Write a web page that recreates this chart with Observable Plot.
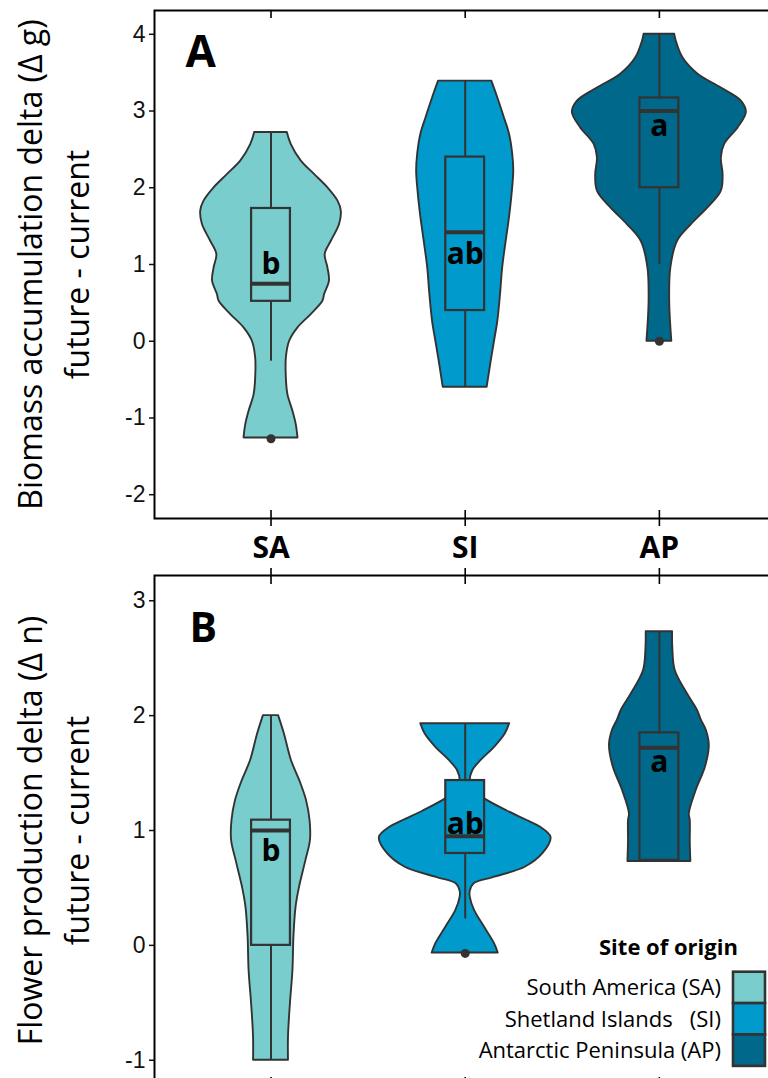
<!DOCTYPE html>
<html><head><meta charset="utf-8">
<script src="https://cdn.jsdelivr.net/npm/d3@7"></script>
<script src="https://cdn.jsdelivr.net/npm/@observablehq/plot@0.6"></script>
<style>
html,body{margin:0;padding:0;background:#fff;overflow:hidden;width:768px;height:1078px;}
#wrap{position:relative;width:768px;height:1078px;overflow:hidden;}
#pa{position:absolute;left:0;top:0;width:800px;}
#pb{position:absolute;left:0;top:560px;width:800px;}
#pa svg,#pb svg{max-width:none !important;}
#lg{position:absolute;left:0;top:0;}
</style></head><body>
<div id="wrap"><div id="pa"></div><div id="pb"></div><svg id="lg" width="768" height="1078"></svg></div>
<script>
// ---------- data ----------
const sites = ["SA", "SI", "AP"];
const siteNames = ["South America (SA)", "Shetland Islands   (SI)", "Antarctic Peninsula (AP)"];
const siteColors = ["#79CDCD", "#009ACD", "#00688B"];
const groupLabels = ["b", "ab", "a"];

// violin outlines: [value, half-width in category units]
const violinA_SA = [[-1.26,.139],[-1.087,.130],[-0.913,.113],[-0.696,.087],[-0.479,.079],[-0.218,.079],[0,.096],[0.174,.139],[0.348,.207],[0.521,.267],[0.61,.276],[0.782,.301],[0.956,.293],[1.13,.279],[1.30,.310],[1.52,.353],[1.696,.362],[1.826,.345],[2.0,.293],[2.174,.224],[2.347,.156],[2.565,.104],[2.72,.084]];
const violinA_SI = [[-0.60,.113],[-0.26,.134],[0,.151],[0.26,.168],[0.61,.182],[0.956,.193],[1.30,.211],[1.61,.228],[1.96,.243],[2.22,.250],[2.43,.245],[2.70,.228],[2.91,.202],[3.17,.168],[3.39,.137]];
const violinA_AP = [[0,.064],[0.52,.053],[0.956,.059],[1.30,.093],[1.52,.165],[1.74,.251],[1.956,.319],[2.17,.328],[2.39,.319],[2.565,.336],[2.78,.405],[2.98,.448],[3.13,.422],[3.30,.319],[3.48,.199],[3.69,.122],[3.91,.087],[4.0,.079]];
const violinB_SA = [[-1.0,.090],[-0.797,.090],[-0.507,.100],[-0.217,.113],[0.072,.118],[0.333,.129],[0.507,.147],[0.74,.180],[0.913,.203],[1.087,.201],[1.26,.183],[1.43,.149],[1.61,.105],[1.84,.069],[2.0,.039]];
const violinB_SI = [[-0.067,.170],[0.015,.151],[0.16,.099],[0.304,.048],[0.42,.026],[0.47,.026],[0.536,.046],[0.59,.144],[0.68,.309],[0.80,.401],[0.94,.442],[1.03,.386],[1.087,.319],[1.17,.216],[1.28,.096],[1.35,.041],[1.43,.026],[1.52,.039],[1.61,.082],[1.72,.149],[1.84,.206],[1.93,.229]];
const violinB_AP = [[0.73,.162],[0.9,.159],[1.087,.159],[1.145,.154],[1.35,.190],[1.55,.237],[1.74,.257],[1.87,.242],[1.96,.216],[2.05,.195],[2.19,.144],[2.39,.082],[2.59,.069],[2.73,.068]];

// box statistics per site (SA, SI, AP)
const boxA_lo = [-0.26, -0.60, 1.00];
const boxA_q1 = [0.52, 0.40, 2.00];
const boxA_med = [0.75, 1.42, 3.00];
const boxA_q3 = [1.73, 2.40, 3.17];
const boxA_hi = [2.72, 3.39, 4.00];
const outA_site = ["SA", "AP"];
const outA_val = [-1.27, 0.00];
const labelA_y = [1.00, 1.13, 2.80];

const boxB_lo = [-1.00, 0.23, 0.74];
const boxB_q1 = [0.00, 0.80, 0.74];
const boxB_med = [1.00, 0.95, 1.72];
const boxB_q3 = [1.09, 1.435, 1.85];
const boxB_hi = [2.00, 1.93, 2.73];
const outB_site = ["SI"];
const outB_val = [-0.07];
const labelB_y = [0.82, 1.05, 1.59];

const yTicksA = [-2, -1, 0, 1, 2, 3, 4];
const yTicksB = [-1, 0, 1, 2, 3];
const titleA = "Biomass accumulation delta (\u0394 g)\nfuture - current";
const titleB = "Flower production delta (\u0394 n)\nfuture - current";

// ---------- drawing ----------
const F = "'Open Sans', sans-serif";
const xPos = s => sites.indexOf(s) + 1;

function panel(o) {
  const marks = [];
  o.violins.forEach((v, i) => {
    marks.push(Plot.areaX(v, {
      y: d => d[0], x1: d => i + 1 - d[1], x2: d => i + 1 + d[1],
      fill: siteColors[i], stroke: "#333", strokeWidth: 1.9, curve: "catmull-rom"
    }));
  });
  const idx = sites.map((s, i) => i);
  marks.push(Plot.ruleX(idx, {x: i => i + 1, y1: i => o.lo[i], y2: i => o.q1[i], stroke: "#333", strokeWidth: 2}));
  marks.push(Plot.ruleX(idx, {x: i => i + 1, y1: i => o.q3[i], y2: i => o.hi[i], stroke: "#333", strokeWidth: 2}));
  marks.push(Plot.rect(idx, {x1: i => i + 0.9, x2: i => i + 1.1, y1: i => o.q1[i], y2: i => o.q3[i],
    fill: i => siteColors[i], stroke: "#333", strokeWidth: 2.2}));
  marks.push(Plot.ruleY(idx, {y: i => o.med[i], x1: i => i + 0.9, x2: i => i + 1.1, stroke: "#333", strokeWidth: 4}));
  marks.push(Plot.dot(o.outSite.map((s, k) => k), {x: k => xPos(o.outSite[k]), y: k => o.outVal[k], r: 4.5, fill: "#333", stroke: "none"}));
  marks.push(Plot.text(idx, {x: i => i + 1, y: i => o.labelY[i], text: i => groupLabels[i],
    fontSize: 30, fontWeight: "bold", fontFamily: F, fill: "black", lineAnchor: "middle"}));
  // panel letter
  marks.push(Plot.text([o.letter], {frameAnchor: "top-left", dx: o.letterDx, dy: o.letterDy, lineAnchor: "top", textAnchor: "start",
    fontSize: o.letterSize, fontWeight: "bold", fontFamily: F, fill: "black"}));
  // y title
  marks.push(Plot.text([o.title], {frameAnchor: "left", rotate: -90, dx: -104, textAnchor: "middle", lineAnchor: "middle",
    fontSize: 32, lineHeight: 1.47, fontFamily: F, fill: "black"}));
  // frame and axes
  marks.push(Plot.frame({stroke: "black", strokeWidth: 2}));
  marks.push(Plot.axisY({ticks: o.yTicks, tickSize: 5, tickPadding: 4, tickFormat: d => String(d), fontSize: 23,
    fontFamily: "'Liberation Sans', Arial, sans-serif", color: "#111", strokeWidth: 1.5, label: null}));
  marks.push(Plot.axisX({ticks: [1, 2, 3], tickSize: 16, dy: -8, fill: "none", stroke: "black", strokeWidth: 1.6, label: null}));
  marks.push(Plot.axisX({anchor: "top", ticks: [1, 2, 3], tickSize: o.topTick, dy: o.topTick === 16 ? 8 : o.topTick, fill: "none", stroke: "black", strokeWidth: 1.6, label: null}));
  if (o.showX) {
    marks.push(Plot.axisX({ticks: [1, 2, 3], tickSize: 0, tickPadding: 18, tickFormat: d => sites[d - 1],
      fontSize: 30, fontWeight: "bold", fontFamily: F, fill: "black", label: null}));
  }
  return Plot.plot({
    width: 800, height: 560,
    marginLeft: 154, marginRight: 24.6, marginTop: o.marginTop, marginBottom: o.marginBottom,
    x: {type: "linear", domain: [0.4, 3.6]},
    y: {domain: o.yDomain},
    style: {background: "transparent", overflow: "visible", maxWidth: "none"},
    marks
  });
}

const pa = panel({
  violins: [violinA_SA, violinA_SI, violinA_AP],
  lo: boxA_lo, q1: boxA_q1, med: boxA_med, q3: boxA_q3, hi: boxA_hi,
  outSite: outA_site, outVal: outA_val, labelY: labelA_y,
  letter: "A", letterDx: 31, letterDy: 25, letterSize: 44,
  title: titleA, yTicks: yTicksA, yDomain: [-2.31, 4.31],
  marginTop: 10, marginBottom: 42, topTick: 7, showX: true
});
document.getElementById("pa").appendChild(pa);

const pb = panel({
  violins: [violinB_SA, violinB_SI, violinB_AP],
  lo: boxB_lo, q1: boxB_q1, med: boxB_med, q3: boxB_q3, hi: boxB_hi,
  outSite: outB_site, outVal: outB_val, labelY: labelB_y,
  letter: "B", letterDx: 35, letterDy: 37, letterSize: 41,
  title: titleB, yTicks: yTicksB, yDomain: [-1.22, 3.22],
  marginTop: 15, marginBottom: 35, topTick: 16, showX: false
});
document.getElementById("pb").appendChild(pb);

// ---------- legend ----------
const lg = d3.select("#lg");
lg.append("text").attr("x", 599).attr("y", 955).text("Site of origin")
  .attr("font-family", F).attr("font-weight", "bold").attr("font-size", 22).attr("fill", "black");
const sw = 31.4;
siteNames.forEach((n, i) => {
  const top = 971.7 + i * sw;
  lg.append("rect").attr("x", 733).attr("y", top).attr("width", 32).attr("height", sw)
    .attr("fill", siteColors[i]).attr("stroke", "#333").attr("stroke-width", 2.6);
  lg.append("text").attr("x", 721).attr("y", top + sw / 2 + 7.9).attr("text-anchor", "end")
    .attr("font-family", F).attr("font-size", 22).attr("fill", "black")
    .style("white-space", "pre").text(n);
});
</script>
</body></html>
